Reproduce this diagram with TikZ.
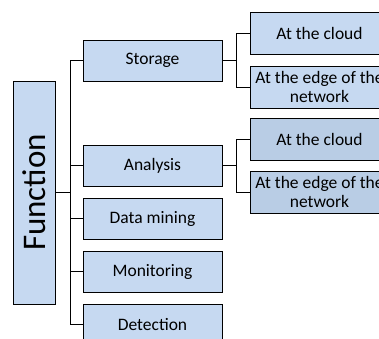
\documentclass[tikz,border=0pt]{standalone}
\usepackage{fontspec}
\setmainfont{Carlito}
\definecolor{boxblue}{HTML}{C6D9F1}
\definecolor{boxblue2}{HTML}{B9CDE5}
\begin{document}
\begin{tikzpicture}[x=1pt,y=-1pt,line width=1pt,font=\fontsize{17.5}{19}\selectfont,
	box/.style={draw,fill=boxblue,minimum width=139pt,minimum height=41pt,inner sep=0pt,align=center},
	sub/.style={box,minimum height=42pt}]
				\useasboundingbox (0,0) rectangle (379,338);
				\clip (0,0) rectangle (379,338);
				\node[draw,fill=boxblue,rotate=90,minimum width=223pt,minimum height=42pt,inner sep=0pt,font=\fontsize{33}{36}\selectfont] (fn) at (34,192.5) {Function};
				\node[box] (storage) at (152.5,60.5) {Storage};
				\node[box] (analysis) at (152.5,165.5) {Analysis};
				\node[box] (mining) at (152.5,218.5) {Data mining};
				\node[box] (monitoring) at (152.5,271.5) {Monitoring};
				\node[box] (detection) at (152.5,324.5) {Detection};
				\node[sub] (scloud) at (319.5,33.5) {At the cloud};
				\node[sub] (sedge) at (319.5,87) {At the edge of the\\network};
				\node[sub,fill=boxblue2] (acloud) at (319.5,139) {At the cloud};
				\node[sub,fill=boxblue2] (aedge) at (319.5,192) {At the edge of the\\network};
				\foreach \n in {storage,analysis,mining,monitoring,detection}
					\draw (fn.south) -- ++(14.5,0) |- (\n.west);
				\foreach \n in {scloud,sedge}
					\draw (storage.east) -- ++(14,0) |- (\n.west);
				\foreach \n in {acloud,aedge}
					\draw (analysis.east) -- ++(14,0) |- (\n.west);
			\end{tikzpicture}
\end{document}
